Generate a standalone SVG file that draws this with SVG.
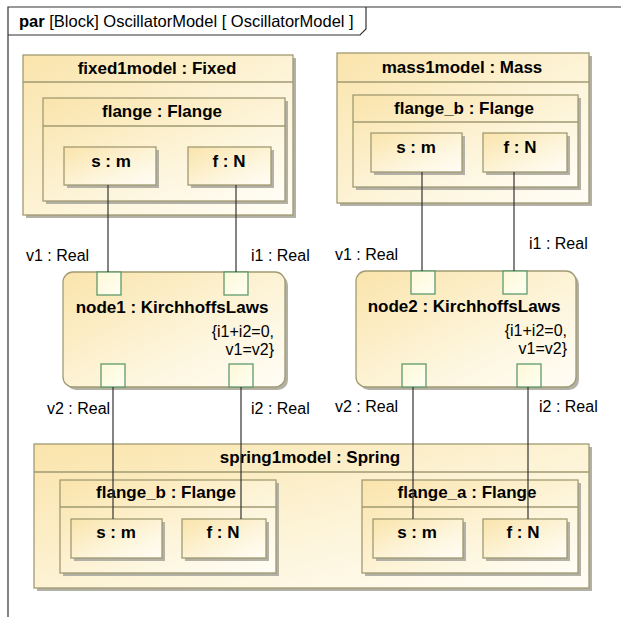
<svg xmlns="http://www.w3.org/2000/svg" width="621" height="617" viewBox="0 0 621 617">
<defs>
<linearGradient id="g" x1="0" y1="0" x2="1" y2="1">
<stop offset="0" stop-color="#fae4ab"/>
<stop offset="0.6" stop-color="#fdf5dc"/>
<stop offset="1" stop-color="#fffdf6"/>
</linearGradient>
<linearGradient id="gp" x1="0" y1="0" x2="1" y2="1">
<stop offset="0" stop-color="#fdf8d8"/>
<stop offset="1" stop-color="#fffff2"/>
</linearGradient>
</defs>
<style>
.sh{fill:#b3b0a6}
.bx{fill:url(#g);stroke:#a19a72;stroke-width:1.3}
.ln{stroke:#a19a72;stroke-width:1.3;fill:none}
.pt{fill:url(#gp);stroke:#5f9a6c;stroke-width:1.3}
.t{font-family:"Liberation Sans",Arial,sans-serif;font-size:16px;fill:#000}
.b{font-family:"Liberation Sans",Arial,sans-serif;font-size:17px;font-weight:bold;fill:#000;text-anchor:middle}
.c{stroke:#333;stroke-width:1.2;fill:none}
.fr{stroke:#333;stroke-width:1.2;fill:none}
</style>
<rect width="621" height="617" fill="#fff"/>

<g id="frame">
<path class="fr" d="M8 617 V7 H621"/>
<path class="fr" d="M8 35 H360 L366 29 V7"/>
<text class="t" x="19" y="27" style="font-size:16.5px"><tspan font-weight="bold">par</tspan> [Block] OscillatorModel [ OscillatorModel ]</text>
</g>

<g id="fixed1model">
<rect class="sh" x="26" y="58" width="270" height="160"/>
<rect class="bx" x="23" y="55" width="270" height="160"/>
<line class="ln" x1="23" y1="82" x2="293" y2="82"/>
<text class="b" x="157" y="74">fixed1model : Fixed</text>
<g id="fixed1model-flange">
<rect class="sh" x="46" y="101" width="242" height="103"/>
<rect class="bx" x="43" y="98" width="242" height="103"/>
<line class="ln" x1="43" y1="126" x2="285" y2="126"/>
<text class="b" x="162" y="117">flange : Flange</text>
</g>
<g id="fixed1model-s">
<rect class="sh" x="67" y="150" width="92" height="38"/>
<rect class="bx" x="64" y="147" width="92" height="38"/>
<text class="b" x="111" y="167">s : m</text>
</g>
<g id="fixed1model-f">
<rect class="sh" x="191" y="150" width="83" height="38"/>
<rect class="bx" x="188" y="147" width="83" height="38"/>
<text class="b" x="229" y="167">f : N</text>
</g>
</g>

<g id="mass1model">
<rect class="sh" x="340" y="56" width="252" height="150"/>
<rect class="bx" x="337" y="53" width="252" height="150"/>
<line class="ln" x1="337" y1="82" x2="589" y2="82"/>
<text class="b" x="462" y="73">mass1model : Mass</text>
<g id="mass1model-flange_b">
<rect class="sh" x="356" y="98" width="225" height="92"/>
<rect class="bx" x="353" y="95" width="225" height="92"/>
<line class="ln" x1="353" y1="122" x2="578" y2="122"/>
<text class="b" x="464" y="114">flange_b : Flange</text>
</g>
<g id="mass1model-s">
<rect class="sh" x="374" y="136" width="91" height="39"/>
<rect class="bx" x="371" y="133" width="91" height="39"/>
<text class="b" x="416" y="153">s : m</text>
</g>
<g id="mass1model-f">
<rect class="sh" x="486" y="136" width="84" height="39"/>
<rect class="bx" x="483" y="133" width="84" height="39"/>
<text class="b" x="520" y="153">f : N</text>
</g>
</g>

<g id="node1">
<rect class="sh" x="66" y="275" width="222" height="115" rx="10"/>
<rect class="bx" x="63" y="272" width="222" height="115" rx="10"/>
<rect class="pt" x="97" y="272" width="24" height="23"/>
<rect class="pt" x="224" y="272" width="24" height="23"/>
<rect class="pt" x="101" y="364" width="24" height="23"/>
<rect class="pt" x="229" y="364" width="24" height="23"/>
<text class="b" x="172" y="313">node1 : KirchhoffsLaws</text>
<text class="t" x="274" y="337" text-anchor="end">{i1+i2=0,</text>
<text class="t" x="274" y="355" text-anchor="end">v1=v2}</text>
</g>

<g id="node2">
<rect class="sh" x="359" y="274" width="220" height="116" rx="10"/>
<rect class="bx" x="356" y="271" width="220" height="116" rx="10"/>
<rect class="pt" x="411" y="271" width="24" height="23"/>
<rect class="pt" x="503" y="271" width="24" height="23"/>
<rect class="pt" x="402" y="364" width="24" height="23"/>
<rect class="pt" x="517" y="364" width="24" height="23"/>
<text class="b" x="464" y="312">node2 : KirchhoffsLaws</text>
<text class="t" x="567" y="336" text-anchor="end">{i1+i2=0,</text>
<text class="t" x="567" y="354" text-anchor="end">v1=v2}</text>
</g>

<g id="spring1model">
<rect class="sh" x="37" y="447" width="555" height="144"/>
<rect class="bx" x="34" y="444" width="555" height="144"/>
<line class="ln" x1="34" y1="472" x2="589" y2="472"/>
<text class="b" x="310" y="463">spring1model : Spring</text>
<g id="spring1model-flange_b">
<rect class="sh" x="63" y="483" width="216" height="93"/>
<rect class="bx" x="60" y="480" width="216" height="93"/>
<line class="ln" x1="60" y1="507" x2="276" y2="507"/>
<text class="b" x="166" y="498">flange_b : Flange</text>
<rect class="sh" x="74" y="522" width="91" height="39"/>
<rect class="bx" x="71" y="519" width="91" height="39"/>
<text class="b" x="116" y="538">s : m</text>
<rect class="sh" x="185" y="522" width="84" height="39"/>
<rect class="bx" x="182" y="519" width="84" height="39"/>
<text class="b" x="223" y="538">f : N</text>
</g>
<g id="spring1model-flange_a">
<rect class="sh" x="365" y="483" width="216" height="93"/>
<rect class="bx" x="362" y="480" width="216" height="93"/>
<line class="ln" x1="362" y1="507" x2="578" y2="507"/>
<text class="b" x="467" y="498">flange_a : Flange</text>
<rect class="sh" x="376" y="522" width="90" height="39"/>
<rect class="bx" x="373" y="519" width="90" height="39"/>
<text class="b" x="417" y="538">s : m</text>
<rect class="sh" x="486" y="522" width="84" height="39"/>
<rect class="bx" x="483" y="519" width="84" height="39"/>
<text class="b" x="523" y="538">f : N</text>
</g>
</g>

<g id="connectors">
<line class="c" x1="108" y1="185" x2="108" y2="272"/>
<line class="c" x1="236" y1="185" x2="236" y2="272"/>
<line class="c" x1="113" y1="387" x2="113" y2="519"/>
<line class="c" x1="241" y1="387" x2="241" y2="519"/>
<line class="c" x1="422" y1="172" x2="422" y2="271"/>
<line class="c" x1="514" y1="172" x2="514" y2="271"/>
<line class="c" x1="413" y1="387" x2="413" y2="519"/>
<line class="c" x1="528" y1="387" x2="528" y2="519"/>
<text class="t" x="26" y="261">v1 : Real</text>
<text class="t" x="251" y="261">i1 : Real</text>
<text class="t" x="47" y="414">v2 : Real</text>
<text class="t" x="251" y="414">i2 : Real</text>
<text class="t" x="335" y="260">v1 : Real</text>
<text class="t" x="529" y="249">i1 : Real</text>
<text class="t" x="335" y="412">v2 : Real</text>
<text class="t" x="539" y="412">i2 : Real</text>
</g>
</svg>
